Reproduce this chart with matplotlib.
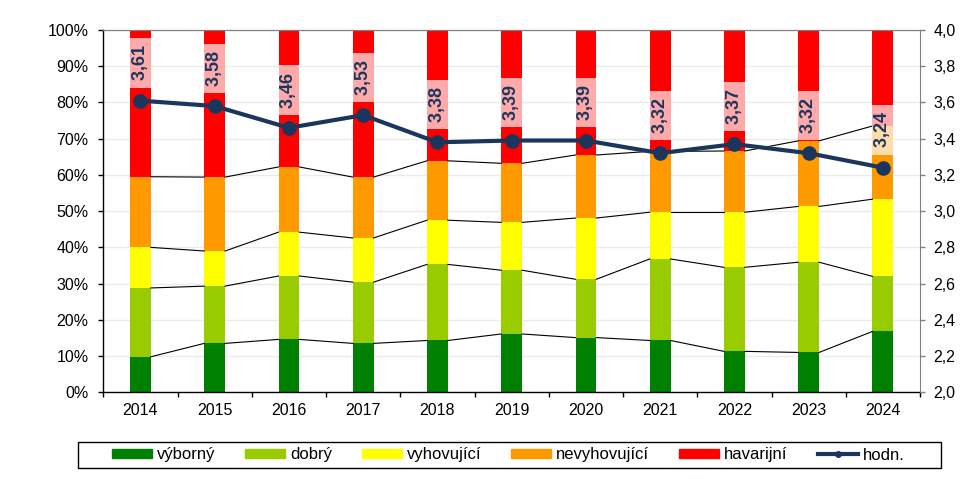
import matplotlib
matplotlib.use("Agg")
import matplotlib.pyplot as plt
import matplotlib.patches as mpatches
from matplotlib.lines import Line2D
import numpy as np

plt.rcParams['font.family'] = ['Liberation Sans', 'DejaVu Sans']
plt.rcParams['font.size'] = 11.5

# data (percent shares per year)
roky = ['2014', '2015', '2016', '2017', '2018', '2019', '2020', '2021', '2022', '2023', '2024']
vyborny = [9.8, 13.5, 14.6, 13.5, 14.3, 16.1, 15.1, 14.3, 11.3, 11.0, 16.8]
dobry = [19.0, 15.8, 17.5, 16.9, 21.0, 17.6, 16.1, 22.5, 23.2, 24.9, 15.2]
vyhovujici = [11.2, 9.7, 12.1, 12.2, 12.2, 13.2, 16.9, 12.9, 15.2, 15.4, 21.3]
nevyhovujici = [19.5, 20.4, 18.0, 16.8, 16.4, 16.3, 17.4, 16.8, 16.9, 18.1, 20.2]
havarijni = [40.5, 40.6, 37.8, 40.6, 36.1, 36.8, 34.5, 33.5, 33.4, 30.6, 26.5]
hodn = [3.61, 3.58, 3.46, 3.53, 3.38, 3.39, 3.39, 3.32, 3.37, 3.32, 3.24]

nazvy = ['výborný', 'dobrý', 'vyhovující', 'nevyhovující', 'havarijní']
barvy = ['#008000', '#99CC00', '#FFFF00', '#FF9900', '#FF0000']
navy = '#1B365D'

fig = plt.figure(figsize=(9.61, 4.79), dpi=100)
ax = fig.add_axes([103.3 / 961, 1 - 392.3 / 479, (920 - 103.3) / 961, (392.3 - 30) / 479])

x = np.arange(len(roky))
w = 0.28
serie = [vyborny, dobry, vyhovujici, nevyhovujici, havarijni]
dno = np.zeros(len(roky))
for vals, c in zip(serie, barvy):
    ax.bar(x, vals, w, bottom=dno, color=c, zorder=2)
    dno = dno + np.array(vals)

# series lines between bars
kum = np.cumsum(np.array(serie), axis=0)
for row in kum[:4]:
    for i in range(len(roky) - 1):
        ax.plot([x[i] + w / 2, x[i + 1] - w / 2], [row[i], row[i + 1]],
                color='black', lw=0.8, zorder=3)

ax.set_xlim(-0.5, len(roky) - 0.5)
ax.set_ylim(0, 100)
ax.set_yticks(np.arange(0, 101, 10))
ax.set_yticklabels([f'{v}%' for v in range(0, 101, 10)])
ax.yaxis.grid(True, color='#EBEBEB', lw=1, zorder=0)
ax.set_axisbelow(True)
ax.set_xticks(x)
ax.set_xticklabels(roky)
ax.set_xticks(np.arange(-0.5, len(roky), 1), minor=True)
ax.tick_params(axis='x', which='major', length=0, pad=8)
ax.tick_params(axis='x', which='minor', length=3.6, width=1, color='black')
ax.tick_params(axis='y', length=3.6, width=1, pad=7)
ax.spines['top'].set_color('#808080')
ax.spines['right'].set_visible(False)
for s in ['left', 'bottom']:
    ax.spines[s].set_color('black')
    ax.spines[s].set_linewidth(1)

ax2 = ax.twinx()
ax2.plot(x, hodn, color=navy, lw=3, marker='o', markersize=9.5, zorder=5)
ax2.set_ylim(2.0, 4.0)
ax2.set_yticks(np.arange(2.0, 4.01, 0.2))
ax2.set_yticklabels([f'{v:.1f}'.replace('.', ',') for v in np.arange(2.0, 4.01, 0.2)])
ax2.tick_params(axis='y', length=3.6, width=1, color='#808080', pad=6)
ax2.spines['right'].set_color('#808080')
ax2.spines['top'].set_color('#808080')
ax2.spines['left'].set_visible(False)
ax2.spines['bottom'].set_visible(False)

for xi, v in zip(x, hodn):
    ax2.annotate(' ' + f'{v:.2f}'.replace('.', ',') + ' ', (xi, v), xytext=(0, 11),
                 textcoords='offset points', rotation=90, ha='center', va='bottom',
                 fontsize=13, fontweight='bold', color=navy, zorder=6,
                 bbox=dict(boxstyle='square,pad=0.12', fc='white', ec='none', alpha=0.67))

# legend
handles = [mpatches.Patch(color=c, label=n) for c, n in zip(barvy, nazvy)]
handles.append(Line2D([], [], color=navy, lw=3, marker='o', markersize=4, label='hodn.'))
fig.legend(handles=handles, loc='center', bbox_to_anchor=(508 / 961, 24 / 479),
           ncol=6, frameon=False, fontsize=12, handlelength=2.4, handleheight=0.48,
           handletextpad=0.3, columnspacing=1.8)
fig.patches.append(mpatches.Rectangle((78.3 / 961, 11 / 479), (941 - 78.3) / 961, 26 / 479,
                                      transform=fig.transFigure, fill=False,
                                      ec='black', lw=1))

fig.savefig('out.png', dpi=100)
